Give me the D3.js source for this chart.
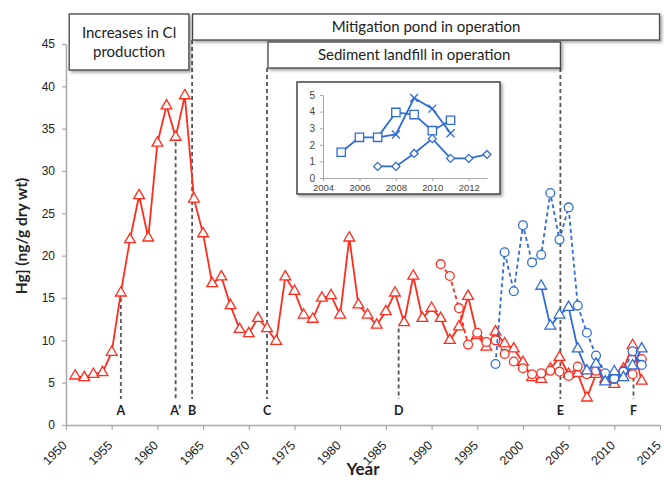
<!DOCTYPE html>
<html>
<head>
<meta charset="utf-8">
<script src="https://cdn.jsdelivr.net/npm/d3@7"></script>
<style>
  html, body { margin: 0; padding: 0; background: #fff; }
  svg { display: block; font-family: Lato, "Open Sans", sans-serif; }
</style>
</head>
<body>
<svg id="chart" width="664" height="486"></svg>
<script>
// ---- Main record: sediment Hg by year ----
const coreStart = 1951;
const coreHg = [5.8, 5.6, 6.0, 6.2, 8.6, 15.6, 21.9, 27.1, 22.1, 33.3,
  37.7, 34.0, 38.9, 26.7, 22.6, 16.7, 17.5, 14.1, 11.3, 10.8,
  12.6, 11.4, 9.9, 17.5, 15.8, 13.0, 12.5, 15.0, 15.3, 13.0,
  22.1, 14.2, 13.0, 11.8, 13.4, 15.6, 12.1, 17.6, 12.6, 13.8,
  12.6, 10.0, 11.6, 15.2, 10.6, 9.2, 11.0, 9.6, 9.0, 7.4,
  5.6, 5.4, 6.6, 8.0, 6.0, 6.1, 3.2, 6.0, 5.4, 4.8,
  6.6, 9.4, 5.2];

const redCircleStart = 1991;
const redCircleHg = [19.0, 17.6, 13.8, 9.5, 10.9, 9.8, 10.0, 8.4, 7.5, 6.7,
  6.0, 6.1, 6.4, 6.3, 5.8, 6.9, 6.0, 6.4, 5.8, 5.4, 6.4, 6.0, 7.8];

const blueCircleStart = 1997;
const blueCircleHg = [7.2, 20.4, 15.8, 23.6, 19.2, 20.1, 27.4, 21.9, 25.7, 14.1,
  10.9, 8.2, 6.1, 5.5, 6.3, 8.7, 7.1];

const blueTriStart = 2002;
const blueTriHg = [16.4, 11.7, 13.0, 13.9, 9.0, 6.4, 7.2, 5.1, 6.3, 5.6, 7.0, 9.0];

// ---- Event markers ----
const eventLabels = ["A", "A\u2019", "B", "C", "D", "E", "F"];
const eventYears = [1956, 1962, 1963.8, 1972, 1986.4, 2004.1, 2012.1];
// value where each dashed line starts (names = runs up to that period box)
const eventTops = [15.6, 34.0, "mitigation", "landfill", 12.0, "landfill", 6.2];

// ---- Axis ticks ----
const xTicks = [1950, 1955, 1960, 1965, 1970, 1975, 1980, 1985, 1990, 1995, 2000, 2005, 2010, 2015];
const yTicks = [0, 5, 10, 15, 20, 25, 30, 35, 40, 45];

// ---- Inset (recent years, 0-5 scale) ----
const insetSquareYears = [2005, 2006, 2007, 2008, 2009, 2010, 2011];
const insetSquare = [1.55, 2.45, 2.45, 3.95, 3.82, 2.85, 3.48];
const insetCrossYears = [2007, 2008, 2009, 2010, 2011];
const insetCross = [2.45, 2.62, 4.82, 4.18, 2.7];
const insetDiamondYears = [2007, 2008, 2009, 2010, 2011, 2012, 2013];
const insetDiamond = [0.7, 0.7, 1.48, 2.37, 1.18, 1.18, 1.42];
const insetXTicks = [2004, 2006, 2008, 2010, 2012];
const insetYTicks = [0, 1, 2, 3, 4, 5];

const RED = "#ff2b1c";
const BLUE = "#2f6bd8";
const GRID = "#a9a9a9";
const TEXT = "#222";

const svg = d3.select("#chart");

const defs = svg.append("defs");
const shadow = defs.append("filter").attr("id", "shadow")
  .attr("x", "-10%").attr("y", "-20%").attr("width", "130%").attr("height", "160%");
shadow.append("feDropShadow").attr("dx", 2).attr("dy", 2).attr("stdDeviation", 1.5)
  .attr("flood-color", "#000").attr("flood-opacity", 0.35);

const x = d3.scaleLinear().domain([1950, 2015]).range([66, 660]);
const y = d3.scaleLinear().domain([0, 45]).range([425, 44]);

// ---- Axes ----
const xAxis = svg.append("g").attr("transform", `translate(0,${y(0)})`)
  .call(d3.axisBottom(x).tickValues(xTicks).tickFormat(d3.format("d")).tickSize(5).tickSizeOuter(0));
xAxis.select(".domain").attr("stroke", GRID).attr("stroke-width", 1.5);
xAxis.selectAll(".tick line").attr("stroke", GRID).attr("stroke-width", 1.2);
xAxis.selectAll(".tick text")
  .attr("font-size", 12.5).attr("fill", TEXT)
  .attr("x", 0).attr("y", 0).attr("dy", "0.35em")
  .attr("text-anchor", "end")
  .attr("transform", "translate(-2,18) rotate(-45)");

const yAxis = svg.append("g").attr("transform", `translate(${x(1950)},0)`)
  .call(d3.axisLeft(y).tickValues(yTicks).tickSize(4).tickSizeOuter(0).tickPadding(7));
yAxis.select(".domain").attr("stroke", GRID).attr("stroke-width", 1.5);
yAxis.selectAll(".tick line").attr("stroke", GRID).attr("stroke-width", 1.2);
yAxis.selectAll(".tick text").attr("font-size", 12).attr("fill", TEXT);

svg.append("text").attr("x", 363).attr("y", 475).attr("text-anchor", "middle")
  .attr("font-size", 17).attr("font-weight", "bold").attr("fill", TEXT).text("Year");
svg.append("text").attr("transform", "translate(27,236) rotate(-90)").attr("text-anchor", "middle")
  .attr("font-size", 15.5).attr("font-weight", "bold").attr("fill", TEXT).text("Hg] (ng/g dry wt)");

// ---- Period boxes ----
const boxes = [
  { x0: 1950.35, x1: 1963.45, top: 14, bottom: 70, lines: ["Increases in Cl", "production"], size: 15 },
  { x0: 1963.85, x1: 2014.95, top: 14, bottom: 40, lines: ["Mitigation pond in operation"], size: 15 },
  { x0: 1972.1, x1: 2004.1, top: 42, bottom: 68, lines: ["Sediment landfill in operation"], size: 15 }
];
const boxBottom = { mitigation: 40, landfill: 68 };

// ---- Event dashed lines ----
eventLabels.forEach((lab, i) => {
  const xe = x(eventYears[i]);
  const t = eventTops[i];
  const yTop = typeof t === "number" ? y(t) + 5 : boxBottom[t];
  svg.append("line").attr("x1", xe).attr("x2", xe).attr("y1", yTop).attr("y2", 399)
    .attr("stroke", "#555").attr("stroke-width", 1.8).attr("stroke-dasharray", "4,3");
  svg.append("text").attr("x", xe).attr("y", 415).attr("text-anchor", "middle")
    .attr("font-size", 12.5).attr("font-weight", "bold").attr("fill", TEXT).text(lab);
});

boxes.forEach(b => {
  const g = svg.append("g");
  g.append("rect").attr("x", x(b.x0)).attr("y", b.top)
    .attr("width", x(b.x1) - x(b.x0)).attr("height", b.bottom - b.top)
    .attr("fill", "#fff").attr("stroke", "#444").attr("stroke-width", 1.3)
    .attr("filter", "url(#shadow)");
  const cx = (x(b.x0) + x(b.x1)) / 2;
  const n = b.lines.length;
  const mid = (b.top + b.bottom) / 2;
  b.lines.forEach((ln, k) => {
    g.append("text").attr("x", cx).attr("y", mid + (k - (n - 1) / 2) * 19)
      .attr("dy", "0.35em").attr("text-anchor", "middle")
      .attr("font-size", b.size).attr("fill", TEXT).text(ln);
  });
});

// ---- Series drawing ----
function toPoints(start, vals) { return vals.map((v, i) => [start + i, v]); }
const line = d3.line().x(d => x(d[0])).y(d => y(d[1]));
const triSym = d3.symbol().type(d3.symbolTriangle).size(50);

function drawSeries(pts, color, dashed, marker) {
  const g = svg.append("g");
  g.append("path").datum(pts).attr("d", line).attr("fill", "none")
    .attr("stroke", color).attr("stroke-width", 1.8)
    .attr("stroke-dasharray", dashed ? "4,3" : null);
  if (marker === "tri") {
    g.selectAll("path.m").data(pts).join("path").attr("class", "m")
      .attr("d", triSym).attr("transform", d => `translate(${x(d[0])},${y(d[1])})`)
      .attr("fill", "#fff").attr("stroke", color).attr("stroke-width", 1.3);
  } else {
    g.selectAll("circle").data(pts).join("circle")
      .attr("cx", d => x(d[0])).attr("cy", d => y(d[1])).attr("r", 4.4)
      .attr("fill", "#fff").attr("stroke", color).attr("stroke-width", 1.3);
  }
}

drawSeries(toPoints(coreStart, coreHg), RED, false, "tri");
drawSeries(toPoints(redCircleStart, redCircleHg), RED, true, "circle");
drawSeries(toPoints(blueCircleStart, blueCircleHg), BLUE, true, "circle");
drawSeries(toPoints(blueTriStart, blueTriHg), BLUE, false, "tri");

// ---- Inset panel ----
const inset = svg.append("g");
inset.append("rect").attr("x", 297).attr("y", 82).attr("width", 203).attr("height", 112)
  .attr("fill", "#fff").attr("stroke", "#444").attr("stroke-width", 1.5)
  .attr("filter", "url(#shadow)");

const xi = d3.scaleLinear().domain([2004, 2013]).range([323, 487]);
const yi = d3.scaleLinear().domain([0, 5]).range([178, 95]);

const ixA = inset.append("g").attr("transform", `translate(0,${yi(0)})`)
  .call(d3.axisBottom(xi).tickValues(insetXTicks).tickFormat(d3.format("d")).tickSize(3).tickSizeOuter(0).tickPadding(3));
ixA.select(".domain").attr("stroke", GRID);
ixA.selectAll(".tick line").attr("stroke", GRID);
ixA.selectAll(".tick text").attr("font-size", 9.5).attr("fill", "#444");

const iyA = inset.append("g").attr("transform", `translate(${xi(2004)},0)`)
  .call(d3.axisLeft(yi).tickValues(insetYTicks).tickFormat(d3.format("d")).tickSize(3).tickSizeOuter(0).tickPadding(5));
iyA.select(".domain").attr("stroke", GRID);
iyA.selectAll(".tick line").attr("stroke", GRID);
iyA.selectAll(".tick text").attr("font-size", 10).attr("fill", "#444");

const iline = d3.line().x(d => xi(d[0])).y(d => yi(d[1]));
function insetSeries(yrs, vals, shape) {
  const pts = yrs.map((yr, i) => [yr, vals[i]]);
  const g = inset.append("g");
  g.append("path").datum(pts).attr("d", iline).attr("fill", "none")
    .attr("stroke", BLUE).attr("stroke-width", 1.8);
  const sel = g.selectAll("path.m").data(pts).join("path").attr("class", "m")
    .attr("transform", d => `translate(${xi(d[0])},${yi(d[1])})`)
    .attr("stroke", BLUE).attr("stroke-width", 1.3);
  if (shape === "square") sel.attr("d", d3.symbol().type(d3.symbolSquare).size(70)).attr("fill", "#fff");
  if (shape === "diamond") sel.attr("d", "M0,-4L4,0L0,4L-4,0Z").attr("fill", "#fff");
  if (shape === "cross") sel.attr("d", "M-4,-4L4,4M-4,4L4,-4").attr("fill", "none");
}
insetSeries(insetCrossYears, insetCross, "cross");
insetSeries(insetSquareYears, insetSquare, "square");
insetSeries(insetDiamondYears, insetDiamond, "diamond");
</script>
</body>
</html>
